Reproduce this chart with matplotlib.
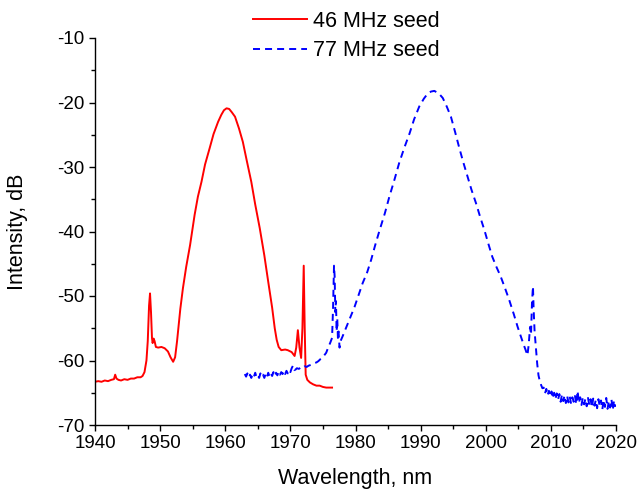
import matplotlib
matplotlib.use("Agg")
import matplotlib.pyplot as plt
from matplotlib.ticker import MultipleLocator

plt.rcParams['font.family'] = ['Liberation Sans', 'DejaVu Sans']
plt.rcParams['axes.unicode_minus'] = False

# 46 MHz seed (red, solid)
red_wl = [1940.0, 1940.5, 1941.0, 1941.5, 1942.0, 1942.5, 1942.9, 1943.1, 1943.3, 1943.6,
          1944.0, 1944.5, 1945.0, 1945.5, 1946.0, 1946.5, 1947.0, 1947.3, 1947.6, 1947.9,
          1948.1, 1948.3, 1948.45, 1948.6, 1948.75, 1948.85, 1949.0, 1949.15, 1949.35, 1949.7,
          1950.2, 1950.7, 1951.2, 1951.6, 1952.0, 1952.3, 1952.6, 1952.8, 1953.1, 1953.5, 1954.0,
          1954.6, 1955.3, 1955.8, 1956.35, 1956.9, 1957.6, 1958.2, 1958.9, 1959.4, 1959.8, 1960.2,
          1960.6, 1961.0, 1961.5, 1962.1, 1962.7, 1963.3, 1964.0, 1964.6, 1965.3, 1966.0,
          1966.6, 1967.2, 1967.6, 1967.9, 1968.2, 1968.6, 1969.2, 1969.6, 1970.2, 1970.65, 1970.9,
          1971.15, 1971.4, 1971.65, 1971.85, 1972.05, 1972.2, 1972.35, 1972.6, 1973.0, 1973.5,
          1974.0, 1974.5, 1975.0, 1975.5, 1976.0, 1976.4]
red_db = [-63.3, -63.2, -63.3, -63.1, -63.2, -63.0, -62.9, -62.2, -62.8, -63.0,
          -63.1, -62.9, -63.0, -62.8, -62.8, -62.6, -62.6, -62.4, -61.8, -60.0,
          -57.0, -51.5, -49.6, -52.5, -56.5, -57.3, -56.6, -57.0, -57.9, -58.0,
          -57.9, -58.1, -58.6, -59.5, -60.2, -59.5, -57.0, -55.0, -52.0, -48.8, -45.5,
          -42.1, -37.4, -34.6, -32.3, -29.6, -27.1, -24.9, -23.0, -21.9, -21.2, -20.9,
          -21.0, -21.5, -22.2, -24.0, -26.1, -29.0, -32.3, -35.8, -39.5, -43.7,
          -47.8, -51.8, -55.0, -56.8, -57.9, -58.4, -58.3, -58.4, -58.7, -59.3, -58.0,
          -55.3, -58.0, -59.6, -55.0, -45.3, -55.0, -62.2, -63.0, -63.4, -63.7,
          -63.9, -63.9, -64.1, -64.2, -64.2, -64.2]

# 77 MHz seed (blue, dashed)
blue_wl = [1963.0, 1963.2, 1963.4, 1963.6, 1963.8, 1964.0, 1964.2, 1964.4, 1964.6, 1964.8,
           1965.0, 1965.2, 1965.4, 1965.6, 1965.8, 1966.0, 1966.2, 1966.4, 1966.6, 1966.8,
           1967.0, 1967.2, 1967.4, 1967.6, 1967.8, 1968.0, 1968.2, 1968.4, 1968.6, 1968.8,
           1969.0, 1969.2, 1969.4, 1969.6, 1969.8, 1970.0, 1970.2, 1970.4, 1970.6, 1970.8,
           1971.0, 1971.3, 1971.6, 1971.9, 1972.2, 1972.5, 1972.8, 1973.1, 1973.4, 1973.7,
           1974.0, 1974.3, 1974.6, 1974.9, 1975.2, 1975.5, 1975.8, 1976.1, 1976.4, 1976.55,
           1976.7, 1976.8, 1976.9, 1977.0, 1977.1, 1977.2, 1977.3, 1977.4, 1977.55, 1977.7,
           1978.0, 1978.6, 1979.2, 1979.85, 1980.5, 1981.1, 1981.8, 1982.4, 1983.0, 1983.7,
           1984.5, 1985.2, 1986.0, 1986.7, 1987.5, 1988.3, 1989.0, 1989.8, 1990.5, 1991.1,
           1991.6, 1992.1, 1992.8, 1993.4, 1994.0, 1994.65, 1995.3, 1995.9, 1996.5, 1997.2,
           1997.8, 1998.5, 1999.1, 1999.8, 2000.4, 2001.0, 2001.6, 2002.3, 2003.0, 2003.6,
           2004.3, 2004.9, 2005.4, 2005.8, 2006.1, 2006.4, 2006.6, 2006.8, 2006.95, 2007.1,
           2007.25, 2007.35, 2007.5, 2007.7, 2007.9, 2008.1, 2008.3, 2008.5, 2008.7,
           2008.9, 2009.1, 2009.3, 2009.5, 2009.7, 2009.9, 2010.1, 2010.3, 2010.5, 2010.7,
           2010.9, 2011.1, 2011.3, 2011.5, 2011.7, 2011.9, 2012.1, 2012.3, 2012.5, 2012.7,
           2012.9, 2013.1, 2013.3, 2013.5, 2013.7, 2013.9, 2014.1, 2014.3, 2014.5, 2014.7,
           2014.9, 2015.1, 2015.3, 2015.5, 2015.7, 2015.9, 2016.1, 2016.3, 2016.5, 2016.7,
           2016.9, 2017.1, 2017.3, 2017.5, 2017.7, 2017.9, 2018.1, 2018.3, 2018.5, 2018.7,
           2018.9, 2019.1, 2019.3, 2019.5, 2019.7, 2019.9]
blue_db = [-62.1, -62.5, -62.0, -62.6, -62.2, -62.7, -62.1, -62.5, -61.9, -62.6,
           -62.3, -62.7, -62.0, -62.5, -62.2, -62.7, -62.1, -62.6, -61.9, -62.5,
           -62.0, -62.4, -61.8, -62.4, -61.9, -62.3, -61.7, -62.2, -61.8, -62.1,
           -61.6, -62.1, -61.6, -62.0, -61.5, -61.8, -61.2, -60.8, -61.5, -61.4,
           -61.2, -61.3, -61.1, -61.2, -60.9, -61.0, -60.8, -60.7, -60.6, -60.4,
           -60.3, -60.1, -59.8, -59.6, -59.2, -58.8, -58.0, -57.3, -56.5, -52.0,
           -45.3, -47.0, -52.5, -50.8, -55.5, -53.5, -56.5, -55.5, -58.0, -57.0,
           -56.3, -54.8, -53.3, -51.7, -49.8, -48.0, -46.3, -44.4, -42.2, -39.8,
           -37.2, -34.6, -31.9, -29.4, -27.0, -24.8, -22.6, -20.6, -19.4, -18.6,
           -18.3, -18.2, -18.6, -19.3, -20.6, -22.2, -24.6, -26.9, -29.1, -31.5,
           -33.5, -35.6, -37.6, -39.8, -41.9, -43.9, -45.4, -47.0, -48.9, -50.6,
           -52.8, -54.8, -56.3, -57.5, -58.3, -59.2, -57.5, -54.8, -56.0, -51.0,
           -48.5, -52.0, -55.5, -58.0, -60.5, -62.3, -63.2, -63.8, -64.3,
           -64.2, -65.1, -64.4, -65.4, -64.7, -65.6, -64.8, -65.9, -65.0, -66.0,
           -65.1, -66.1, -65.2, -66.4, -65.3, -66.3, -65.4, -66.6, -65.5, -66.5,
           -65.6, -66.7, -65.7, -66.4, -65.5, -66.8, -64.7, -66.6, -65.7, -66.9,
           -65.8, -66.8, -65.9, -67.1, -65.8, -66.9, -66.0, -67.3, -65.9, -67.0,
           -66.1, -67.4, -66.0, -67.1, -66.2, -67.6, -66.1, -67.2, -65.8, -67.5,
           -66.3, -67.3, -66.0, -67.7, -66.2, -67.2]

x_ticks = [1940, 1950, 1960, 1970, 1980, 1990, 2000, 2010, 2020]
y_ticks = [-70, -60, -50, -40, -30, -20, -10]

fig = plt.figure(figsize=(6.39, 4.93), dpi=100)
ax = fig.add_axes([95/639, 68/493, 521/639, 387/493])

ax.plot(red_wl, red_db, color='#ff0000', lw=1.4, label='46 MHz seed')
ax.plot(blue_wl, blue_db, color='#0000ff', lw=1.4, linestyle=(0, (3.6, 2.6)), label='77 MHz seed')

ax.set_xlim(1940, 2020)
ax.set_ylim(-70, -10)
ax.set_xticks(x_ticks)
ax.set_yticks(y_ticks)
ax.xaxis.set_minor_locator(MultipleLocator(5))
ax.yaxis.set_minor_locator(MultipleLocator(5))
for s in ['top', 'right']:
    ax.spines[s].set_visible(False)
for s in ['left', 'bottom']:
    ax.spines[s].set_linewidth(1.0)
ax.tick_params(which='major', direction='out', length=4.5, width=1.0, labelsize=13.5, pad=3)
ax.tick_params(which='minor', direction='out', length=2.8, width=1.0)

ax.set_xlabel('Wavelength, nm', fontsize=15.5)
ax.set_ylabel('Intensity, dB', fontsize=15.5)
ax.xaxis.set_label_coords(0.5, -0.110)
ax.yaxis.set_label_coords(-0.129, 0.5)

fig.legend(loc='center', bbox_to_anchor=(0.5415, 0.927), frameon=False, fontsize=15.5,
           handlelength=2.5, handletextpad=0.28, labelspacing=0.40, borderpad=0)

fig.savefig('out.png', dpi=100)
